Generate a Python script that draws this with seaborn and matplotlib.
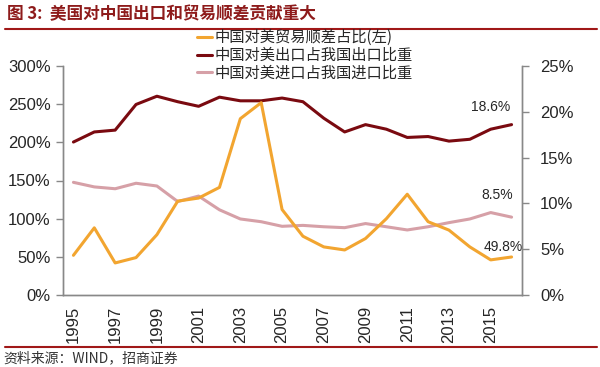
import numpy as np
import pandas as pd
import matplotlib
matplotlib.use('Agg')
import matplotlib.pyplot as plt
from matplotlib.lines import Line2D
from matplotlib.ticker import FuncFormatter, FixedLocator
import seaborn as sns

# data
years = list(range(1995, 2017))
surplus_share = [0.52, 0.88, 0.42, 0.49, 0.79, 1.23, 1.27, 1.41, 2.31, 2.52, 1.12, 0.77,
                 0.63, 0.59, 0.74, 1.00, 1.32, 0.96, 0.85, 0.63, 0.46, 0.498]  # left axis
export_share = [16.7, 17.8, 18.0, 20.8, 21.7, 21.1, 20.6, 21.6, 21.2, 21.2, 21.5, 21.1,
                19.3, 17.8, 18.6, 18.1, 17.2, 17.3, 16.8, 17.0, 18.1, 18.6]  # right axis, %
import_share = [12.3, 11.8, 11.6, 12.2, 11.9, 10.2, 10.8, 9.3, 8.3, 8.0, 7.5, 7.6,
                7.45, 7.35, 7.8, 7.45, 7.1, 7.45, 7.9, 8.3, 9.0, 8.5]  # right axis, %

labels = ['中国对美贸易顺差占比(左)', '中国对美出口占我国出口比重', '中国对美进口占我国进口比重']
colors = ['#F2A530', '#7A0A10', '#D6A0A7']

df = pd.DataFrame({'year': years, 'surplus': surplus_share,
                   'export': export_share, 'imp': import_share})

sns.set_style('white')
plt.rcParams['font.family'] = ['Liberation Sans', 'Noto Sans CJK SC']
cjk = ['Noto Sans CJK SC', 'DejaVu Sans']

fig = plt.figure(figsize=(6, 3.67), dpi=100)
ax = fig.add_axes([63/600, 72/367, 459/600, 229/367])
ax2 = ax.twinx()

sns.lineplot(data=df, x='year', y='export', ax=ax2, color=colors[1], lw=2.2, legend=False)
sns.lineplot(data=df, x='year', y='imp', ax=ax2, color=colors[2], lw=2.2, legend=False)
sns.lineplot(data=df, x='year', y='surplus', ax=ax, color=colors[0], lw=2.2, legend=False)
ax.set_zorder(ax2.get_zorder() + 1)
ax.patch.set_visible(False)

ax.set_xlim(1994.5, 2016.5)
ax.set_ylim(0, 3)
ax2.set_ylim(0, 25)
ax.set_yticks(np.arange(0, 3.01, 0.5))
ax2.set_yticks(np.arange(0, 26, 5))
ax.yaxis.set_major_formatter(FuncFormatter(lambda v, p: f'{v*100:.0f}%'))
ax2.yaxis.set_major_formatter(FuncFormatter(lambda v, p: f'{v:.0f}%'))

ax.set_xticks(range(1995, 2016, 2))
ax.set_xticklabels([str(y) for y in range(1995, 2016, 2)], rotation=90)
ax.xaxis.set_minor_locator(FixedLocator(np.arange(1994.5, 2017, 2)))
ax.tick_params(axis='x', which='major', length=0, pad=8, labelsize=12)
ax.tick_params(axis='x', which='minor', length=6, width=1, color='#888888', direction='out')
ax.tick_params(axis='y', length=5, width=1, color='#888888', labelsize=12, pad=4, left=True)
ax2.tick_params(axis='y', length=5, width=1, color='#888888', labelsize=12, pad=8, right=True)

for a in (ax, ax2):
    a.set_xlabel('')
    a.set_ylabel('')
    a.spines['top'].set_visible(False)
    for s in ('left', 'right', 'bottom'):
        a.spines[s].set_color('#888888')
        a.spines[s].set_linewidth(1)

# end-point labels
ax2.text(2015.0, 20.5, '18.6%', fontsize=10, ha='center', va='center')
ax2.text(2015.3, 10.9, '8.5%', fontsize=10, ha='center', va='center')
ax2.text(2015.6, 5.25, '49.8%', fontsize=10, ha='center', va='center')

handles = [Line2D([], [], color=c, lw=2.2) for c in colors]
fig.legend(handles, labels, loc='upper left', bbox_to_anchor=(197/600, 1 - 29/367),
           frameon=False, prop={'family': cjk, 'size': 11}, handlelength=1.0,
           handletextpad=0.15, labelspacing=0.06, borderaxespad=0, borderpad=0)

# title, rules and source
fig.text(0.012, 1 - 14/367, '图 3:  美国对中国出口和贸易顺差贡献重大', fontsize=12,
         fontweight='bold', color='#8E1B1B', family=cjk, va='center')
fig.add_artist(Line2D([0.008, 0.995], [1 - 29/367, 1 - 29/367], color='#A01818', lw=1.5))
fig.add_artist(Line2D([0.008, 0.995], [1 - 347/367, 1 - 347/367], color='#A01818', lw=1.5))
fig.text(0.005, 1 - 358/367, '资料来源：WIND，招商证券', fontsize=10, family=cjk,
         va='center', color='#333333')

fig.savefig('out.png', dpi=100)
